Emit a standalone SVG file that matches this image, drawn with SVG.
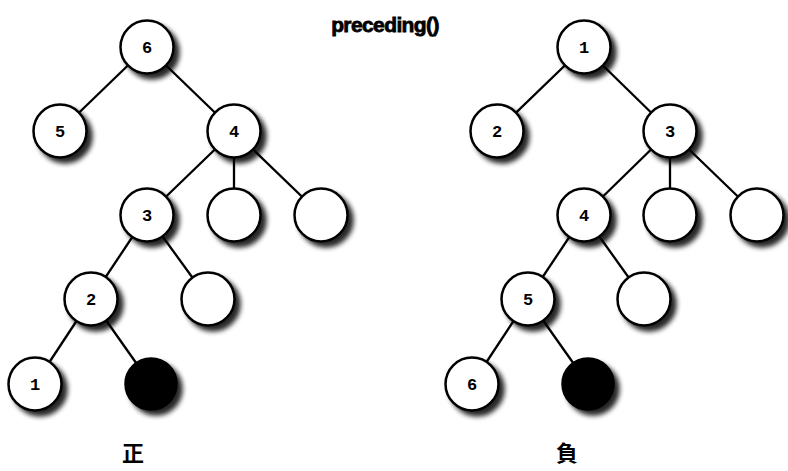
<svg xmlns="http://www.w3.org/2000/svg" width="788" height="471" viewBox="0 0 788 471">
<defs>
<filter id="sh" x="-30%" y="-30%" width="170%" height="170%">
<feGaussianBlur in="SourceAlpha" stdDeviation="2.5"/>
<feOffset dx="5" dy="5" result="b"/>
<feComponentTransfer in="b" result="c"><feFuncA type="linear" slope="0.85"/></feComponentTransfer>
<feMerge><feMergeNode in="c"/><feMergeNode in="SourceGraphic"/></feMerge>
</filter>
</defs>
<style>
.n circle{fill:#fff;stroke:#000;stroke-width:2.5;filter:url(#sh)}
.n.f circle{fill:#000}
.n text{font-family:"Liberation Mono","DejaVu Sans Mono",monospace;font-weight:bold;font-size:17px;text-anchor:middle;fill:#000}
.e line{stroke:#000;stroke-width:2.3}
.t{font-family:"Liberation Sans",Arial,sans-serif;font-weight:bold;font-size:21px;text-anchor:middle;letter-spacing:-0.6px;stroke:#000;stroke-width:0.8}
.c{font-family:"Noto Sans CJK SC","Noto Sans CJK JP",sans-serif;font-weight:bold;font-size:22px;text-anchor:middle}
</style>
<rect width="788" height="471" fill="#fff"/>
<text class="t" x="385" y="32">preceding()</text>
<g id="connectors" class="e">
<line x1="147" y1="47" x2="60" y2="131"/>
<line x1="147" y1="47" x2="234" y2="131"/>
<line x1="234" y1="131" x2="147" y2="215"/>
<line x1="234" y1="131" x2="234" y2="215"/>
<line x1="234" y1="131" x2="321" y2="215"/>
<line x1="147" y1="215" x2="91" y2="299"/>
<line x1="147" y1="215" x2="208" y2="299"/>
<line x1="91" y1="299" x2="35" y2="384"/>
<line x1="91" y1="299" x2="151" y2="384"/>
<line x1="584" y1="47" x2="497" y2="131"/>
<line x1="584" y1="47" x2="670" y2="131"/>
<line x1="670" y1="131" x2="584" y2="215"/>
<line x1="670" y1="131" x2="670" y2="215"/>
<line x1="670" y1="131" x2="757" y2="215"/>
<line x1="584" y1="215" x2="528" y2="299"/>
<line x1="584" y1="215" x2="644" y2="299"/>
<line x1="528" y1="299" x2="472" y2="384"/>
<line x1="528" y1="299" x2="588" y2="384"/>
</g>
<g id="L6" class="n"><circle cx="147" cy="47" r="26.5"/><text x="147" y="53">6</text></g>
<g id="L5" class="n"><circle cx="60" cy="131" r="26.5"/><text x="60" y="137">5</text></g>
<g id="L4" class="n"><circle cx="234" cy="131" r="26.5"/><text x="234" y="137">4</text></g>
<g id="L3" class="n"><circle cx="147" cy="215" r="26.5"/><text x="147" y="221">3</text></g>
<g id="La" class="n"><circle cx="234" cy="215" r="26.5"/></g>
<g id="Lb" class="n"><circle cx="321" cy="215" r="26.5"/></g>
<g id="L2" class="n"><circle cx="91" cy="299" r="26.5"/><text x="91" y="305">2</text></g>
<g id="Lc" class="n"><circle cx="208" cy="299" r="26.5"/></g>
<g id="L1" class="n"><circle cx="35" cy="384" r="26.5"/><text x="35" y="390">1</text></g>
<g id="Lx" class="n f"><circle cx="151" cy="384" r="25.5"/></g>
<g id="R1" class="n"><circle cx="584" cy="47" r="26.5"/><text x="584" y="53">1</text></g>
<g id="R2" class="n"><circle cx="497" cy="131" r="26.5"/><text x="497" y="137">2</text></g>
<g id="R3" class="n"><circle cx="670" cy="131" r="26.5"/><text x="670" y="137">3</text></g>
<g id="R4" class="n"><circle cx="584" cy="215" r="26.5"/><text x="584" y="221">4</text></g>
<g id="Ra" class="n"><circle cx="670" cy="215" r="26.5"/></g>
<g id="Rb" class="n"><circle cx="757" cy="215" r="26.5"/></g>
<g id="R5" class="n"><circle cx="528" cy="299" r="26.5"/><text x="528" y="305">5</text></g>
<g id="Rc" class="n"><circle cx="644" cy="299" r="26.5"/></g>
<g id="R6" class="n"><circle cx="472" cy="384" r="26.5"/><text x="472" y="390">6</text></g>
<g id="Rx" class="n f"><circle cx="588" cy="384" r="25.5"/></g>
<text class="c" x="133" y="461">正</text>
<text class="c" x="567" y="461">負</text>
</svg>
